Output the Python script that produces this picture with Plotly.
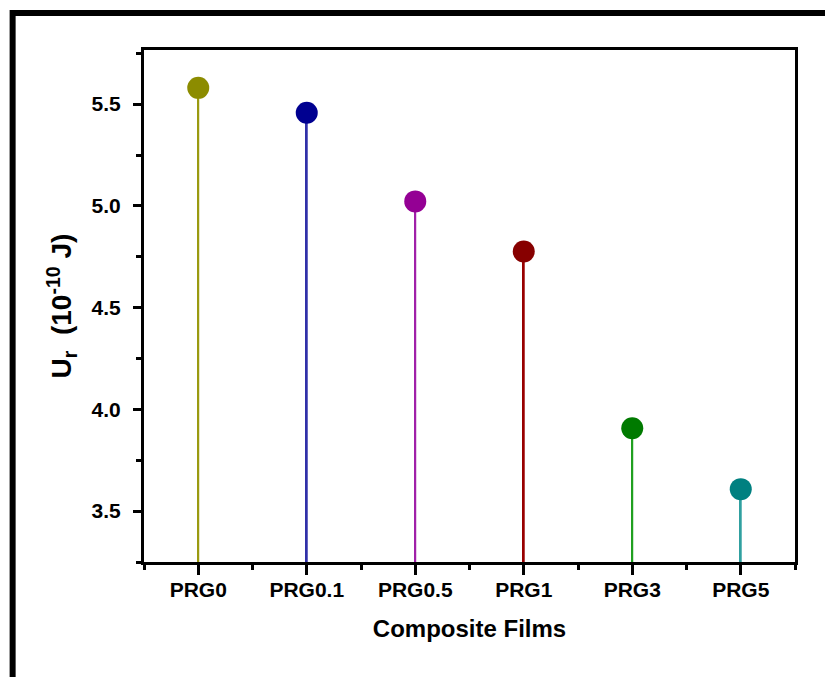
import plotly.graph_objects as go

# Composite film samples and their recoverable energy U_r (in 1e-10 J)
films = ["PRG0", "PRG0.1", "PRG0.5", "PRG1", "PRG3", "PRG5"]
ur_values = [5.58, 5.458, 5.022, 4.776, 3.907, 3.608]

# Y axis tick values
y_ticks = [3.5, 4.0, 4.5, 5.0, 5.5]

marker_colors = ["#8c8c00", "#000090", "#940094", "#870000", "#007a00", "#008080"]
stem_colors = ["#9a9a10", "#3030a8", "#a020a8", "#990000", "#20a020", "#30a0a0"]

positions = list(range(len(films)))

fig = go.Figure()

# Stems: thin bars rising to each value
fig.add_trace(go.Bar(
    x=positions, y=ur_values, width=0.018,
    marker=dict(color=stem_colors, line=dict(width=0)),
    hoverinfo="skip", showlegend=False,
))

# Lollipop heads
fig.add_trace(go.Scatter(
    x=positions, y=ur_values, mode="markers",
    marker=dict(size=22, color=marker_colors, line=dict(width=0)),
    showlegend=False,
))

font_family = "Liberation Sans, Arial, sans-serif"

fig.update_layout(
    width=825, height=677,
    margin=dict(l=143.5, r=30, t=50, b=115),
    paper_bgcolor="white", plot_bgcolor="white",
    font=dict(family=font_family, color="black"),
    xaxis=dict(
        range=[-0.5, 5.5],
        tickmode="array", tickvals=positions, ticktext=[f"<b>{f}</b>" for f in films],
        tickfont=dict(size=21, family=font_family, color="black"),
        ticklabelstandoff=-3,
        showline=True, linecolor="black", linewidth=3, mirror=True,
        ticks="outside", ticklen=10, tickwidth=2.5, tickcolor="black",
        minor=dict(tickmode="linear", tick0=0.5, dtick=1, ticks="outside",
                   ticklen=5, tickwidth=2.5, tickcolor="black"),
        showgrid=False, zeroline=False,
        title=dict(text="<b>Composite Films</b>", font=dict(size=24, family=font_family),
                   standoff=20),
    ),
    yaxis=dict(
        range=[3.25, 5.766],
        tickmode="array", tickvals=y_ticks,
        ticktext=[f"<b>{v:.1f}</b>" for v in y_ticks],
        tickfont=dict(size=21, family=font_family, color="black"),
        ticklabelstandoff=8,
        showline=True, linecolor="black", linewidth=3, mirror=True,
        ticks="outside", ticklen=8, tickwidth=2.5, tickcolor="black",
        minor=dict(tickmode="linear", tick0=3.25, dtick=0.25, ticks="outside",
                   ticklen=5, tickwidth=2.5, tickcolor="black"),
        showgrid=False, zeroline=False,
        title=dict(text="<b>U<sub>r</sub>  (10<sup>-10</sup> J)</b>",
                   font=dict(size=28, family=font_family), standoff=12),
    ),
    shapes=[dict(
        type="rect", xref="paper", yref="paper",
        x0=-0.2018, x1=1.06, y0=-0.26, y1=1.0723,
        line=dict(color="black", width=6), fillcolor="rgba(0,0,0,0)", layer="above",
    )],
)

fig.write_html("out.html")
